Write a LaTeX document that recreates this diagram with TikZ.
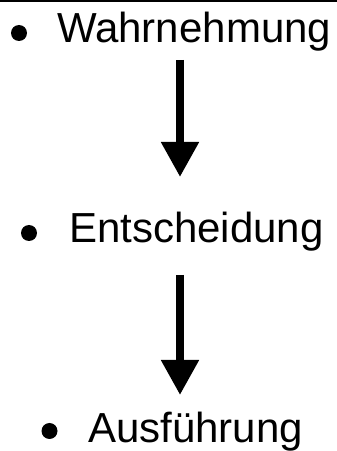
\documentclass[tikz,border=0pt]{standalone}
\usepackage{fontspec}
\setmainfont{Liberation Sans}
\usetikzlibrary{arrows.meta}
\begin{document}
\begin{tikzpicture}[x=1pt,y=1pt,
  label/.style={anchor=base west,inner sep=0pt,font=\fontsize{42}{42}\selectfont},
  bigarrow/.style={line width=8pt,line cap=butt,-{Triangle[width=36pt,length=35pt]}}]
\useasboundingbox (0,0) rectangle (337,451);
\draw[line width=1.5pt] (0,450) -- (337,450);
\node[label] (w) at (57,408) {Wahrnehmung};
\coordinate (bw) at (19,418);
\node[label] (e) at (69,208) {Entscheidung};
\coordinate (be) at (29,218);
\node[label] (a) at (88,9) {Ausführung};
\coordinate (ba) at (49.5,20);
\fill (bw) circle[radius=8pt];
\fill (be) circle[radius=8pt];
\fill (ba) circle[radius=8pt];
\coordinate (a1s) at (180,391);
\coordinate (a1e) at (180,274);
\coordinate (a2s) at (180,176);
\coordinate (a2e) at (180,56);
\draw[bigarrow] (a1s) -- (a1e);
\draw[bigarrow] (a2s) -- (a2e);
\end{tikzpicture}
\end{document}
